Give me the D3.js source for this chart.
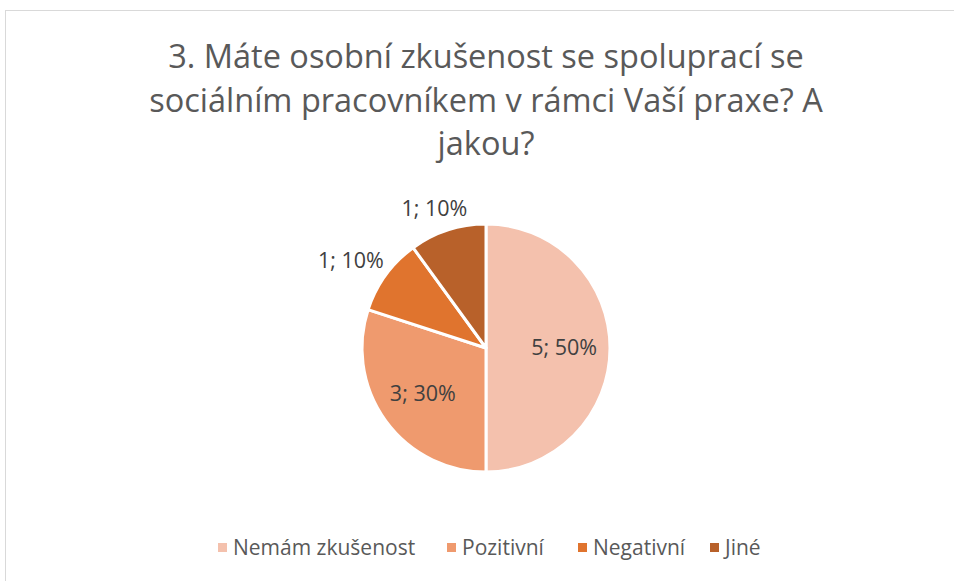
<!DOCTYPE html>
<html>
<head>
<meta charset="utf-8">
<script src="https://cdn.jsdelivr.net/npm/d3@7"></script>
<style>
  html, body { margin: 0; padding: 0; background: #fff; }
  svg { display: block; font-family: "Open Sans", "Noto Sans", sans-serif; }
</style>
</head>
<body>
<svg id="chart" width="954" height="581"></svg>
<script>
// chart data
var categories = ['Nemám zkušenost', 'Pozitivní', 'Negativní', 'Jiné'];
var values = [5, 3, 1, 1];
var colors = ['#F4C1AD', '#EF9A6E', '#E0742E', '#B8612A'];
var titleLines = ['3. Máte osobní zkušenost se spoluprací se', 'sociálním pracovníkem v rámci Vaší praxe? A', 'jakou?'];

var svg = d3.select('#chart'),
	width = 954,
	height = 581;

// chart frame
svg.append('rect')
	.attr('x', 5.5)
	.attr('y', 10.5)
	.attr('width', width)
	.attr('height', height)
	.attr('fill', '#fff')
	.attr('stroke', '#d9d9d9')
	.attr('stroke-width', 1);

// title
svg.append('g')
	.attr('class', 'title')
	.selectAll('text')
	.data(titleLines)
	.enter().append('text')
	.attr('x', 486)
	.attr('y', function(d, i) { return 68 + i * 43.5; })
	.attr('text-anchor', 'middle')
	.attr('font-size', '32.5px')
	.attr('fill', '#595959')
	.text(function(d) { return d; });

var total = d3.sum(values);
var cx = 486, cy = 348, r = 124;

var pie = d3.pie().sort(null).value(function(d) { return d; });
var arcs = pie(values);

var arc = d3.arc().innerRadius(0).outerRadius(r);

var g = svg.append('g')
	.attr('transform', 'translate(' + cx + ',' + cy + ')');

g.selectAll('path')
	.data(arcs)
	.enter().append('path')
	.attr('d', arc)
	.attr('fill', function(d, i) { return colors[i]; })
	.attr('stroke', '#fff')
	.attr('stroke-width', 3)
	.attr('stroke-linejoin', 'round');

// data labels: big slices inside, small ones outside end
var inner = d3.arc().innerRadius(r * 0.63).outerRadius(r * 0.63);

g.selectAll('text.lbl')
	.data(arcs)
	.enter().append('text')
	.attr('class', 'lbl')
	.attr('font-size', '21.5px')
	.attr('fill', '#404040')
	.attr('text-anchor', 'middle')
	.text(function(d) { return d.data + '; ' + Math.round(d.data / total * 100) + '%'; })
	.each(function(d) {
		var t = d3.select(this);
		var a = (d.startAngle + d.endAngle) / 2;
		var frac = d.data / total;
		if(frac > 0.2) {
			var c = inner.centroid(d);
			t.attr('x', c[0]).attr('y', c[1] + 7);
		}
		else {
			var w = this.getComputedTextLength(), h = 20;
			var px = Math.sin(a) * (r + 10), py = -Math.cos(a) * (r + 10);
			t.attr('x', px + Math.sin(a) * w / 2)
				.attr('y', py - Math.cos(a) * h / 2 + 5);
		}
	});

// legend
var legendX = [218, 447, 578, 710];
var legend = svg.append('g').attr('class', 'legend');

var item = legend.selectAll('g')
	.data(categories)
	.enter().append('g')
	.attr('transform', function(d, i) { return 'translate(' + legendX[i] + ',548)'; });

item.append('rect')
	.attr('x', 0)
	.attr('y', -5)
	.attr('width', 9)
	.attr('height', 9)
	.attr('fill', function(d, i) { return colors[i]; });

item.append('text')
	.attr('x', 15)
	.attr('y', 7)
	.attr('font-size', '21px')
	.attr('fill', '#595959')
	.text(function(d) { return d; });
</script>
</body>
</html>
